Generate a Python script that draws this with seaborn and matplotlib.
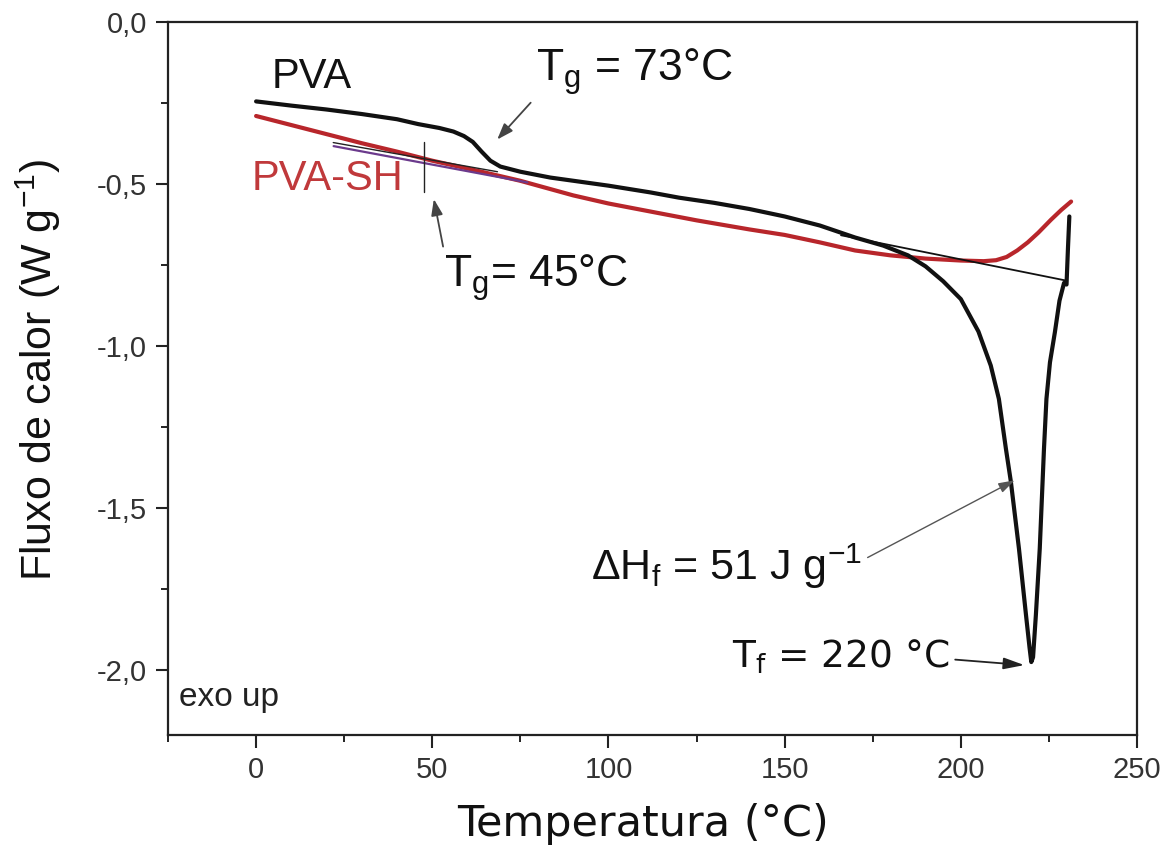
import matplotlib
matplotlib.use("Agg")
import matplotlib.pyplot as plt
from matplotlib.ticker import MultipleLocator, FuncFormatter
import seaborn as sns
import pandas as pd

# DSC curves (temperature in °C, heat flow in W/g)
pva_temp = [0, 10, 20, 30, 40, 46, 52, 56, 59, 61.5, 64, 66.5, 69.3, 75, 83.5,
            100, 112, 120, 130, 140, 150, 160, 170, 178, 185, 190, 195, 200,
            205, 208.5, 210.8, 212.8, 214.2, 216.5, 218.5, 219.5, 220, 220.5,
            221.3, 222.4, 223.6, 224.3, 225.3, 226.7, 228, 229.3, 230.0, 230.4,
            230.8]
pva_flow = [-0.245, -0.258, -0.27, -0.284, -0.30, -0.315, -0.327, -0.338,
            -0.352, -0.37, -0.40, -0.428, -0.446, -0.462, -0.48,
            -0.505, -0.526, -0.542, -0.558, -0.577, -0.60, -0.628, -0.665,
            -0.69, -0.72, -0.754, -0.80, -0.855,
            -0.955, -1.06, -1.163, -1.317, -1.418, -1.625, -1.83, -1.93,
            -1.975, -1.96, -1.83, -1.625, -1.317, -1.163, -1.05, -0.957,
            -0.86, -0.805, -0.81, -0.70, -0.60]

pvash_temp = [0, 10, 20, 30, 40, 50, 60, 75, 90, 100, 112, 125, 140, 150, 160,
              170, 180, 190, 200, 206.5, 210, 213, 216, 219, 222, 225.6, 228.5,
              231.3]
pvash_flow = [-0.29, -0.318, -0.346, -0.374, -0.40, -0.428, -0.452, -0.49,
              -0.535, -0.56, -0.585, -0.612, -0.64, -0.657, -0.68, -0.705,
              -0.72, -0.73, -0.736, -0.738, -0.735, -0.725, -0.705, -0.68,
              -0.65, -0.61, -0.58, -0.554]

# construction lines: glass-transition tangents and melting baseline
tg_pva_line_t = [21.9, 68.5]
tg_pva_line_f = [-0.372, -0.462]
tg_sh_line_t = [22, 77]
tg_sh_line_f = [-0.383, -0.495]
tg_sh_mark_t = [47.7, 47.7]
tg_sh_mark_f = [-0.37, -0.526]
melt_base_t = [166, 229.5]
melt_base_f = [-0.658, -0.797]

x_ticks = [0, 50, 100, 150, 200, 250]
y_ticks = [0.0, -0.5, -1.0, -1.5, -2.0]

sns.set_theme(style="ticks")
plt.rcParams["font.family"] = ["Liberation Sans", "DejaVu Sans"]
plt.rcParams["mathtext.default"] = "regular"

fig = plt.figure(figsize=(11.67, 8.49), dpi=100)
ax = fig.add_axes([168 / 1167, 1 - 735 / 849, (1137 - 168) / 1167, (735 - 22) / 849])

black = "#111111"
red = "#b8262b"

df_pva = pd.DataFrame({"T": pva_temp, "F": pva_flow})
df_sh = pd.DataFrame({"T": pvash_temp, "F": pvash_flow})

sns.lineplot(data=df_sh, x="T", y="F", ax=ax, color=red, lw=3.0,
             sort=False, estimator=None)
sns.lineplot(data=df_pva, x="T", y="F", ax=ax, color=black, lw=3.0,
             sort=False, estimator=None)

ax.plot(tg_sh_line_t, tg_sh_line_f, color="#6b3a8c", lw=1.6)
ax.plot(tg_pva_line_t, tg_pva_line_f, color="#222222", lw=1.0)
ax.plot(tg_sh_mark_t, tg_sh_mark_f, color="#222222", lw=1.0)
ax.plot(melt_base_t, melt_base_f, color="#111111", lw=1.3)

ax.set_xlim(-25, 250)
ax.set_ylim(-2.2, 0.0)
ax.xaxis.set_major_locator(plt.FixedLocator(x_ticks))
ax.xaxis.set_minor_locator(MultipleLocator(25))
ax.yaxis.set_major_locator(plt.FixedLocator(y_ticks))
ax.yaxis.set_minor_locator(MultipleLocator(0.25))
ax.yaxis.set_major_formatter(FuncFormatter(lambda v, p: f"{v:.1f}".replace(".", ",")))

for s in ax.spines.values():
    s.set_linewidth(1.6)
    s.set_color("#222222")

ax.tick_params(which="major", direction="out", length=9, width=1.5,
               labelsize=21, labelcolor="#333333", color="#222222", pad=6)
ax.tick_params(which="minor", direction="out", length=5, width=1.4,
               color="#222222")
ax.tick_params(top=False, right=False, which="both")

ax.set_xlabel("Temperatura (°C)", fontsize=31, family="DejaVu Sans",
              color="#111111", labelpad=14)
ax.xaxis.set_label_coords(0.49, -0.095)
ax.set_ylabel(r"Fluxo de calor (W g$^{\mathregular{-1}}$)", fontsize=31,
              color="#111111", labelpad=14)
ax.yaxis.set_label_coords(-0.108, 0.512)

# labels and annotations
ax.text(4.5, -0.17, "PVA", fontsize=30, color="#111111", va="center", ha="left")
ax.text(-1.2, -0.483, "PVA-SH", fontsize=30, color="#c0393b", va="center", ha="left")
ax.text(-21.8, -2.085, "exo up", fontsize=24, color="#222222", va="center", ha="left")

arrow_kw = dict(arrowstyle="-|>,head_length=0.7,head_width=0.25",
                color="#444444", lw=1.3, mutation_scale=14)

ax.annotate(r"T$_\mathregular{g}$ = 73°C", xy=(67.9, -0.369),
            xytext=(79.3, -0.154), fontsize=32, va="center", ha="left",
            color="#111111", arrowprops=dict(arrow_kw, relpos=(0, 0.0)))
ax.annotate(r"T$_\mathregular{g}$= 45°C", xy=(50.3, -0.538),
            xytext=(53.4, -0.79), fontsize=32, va="center", ha="left",
            color="#111111", arrowprops=dict(arrow_kw, relpos=(0.0, 1.0)))
ax.annotate(r"$\Delta$H$_\mathregular{f}$ = 51 J g$^{\mathregular{-1}}$",
            xy=(216, -1.41), xytext=(95, -1.68), fontsize=31, va="center",
            ha="left", color="#111111",
            arrowprops=dict(arrowstyle="-|>,head_length=0.7,head_width=0.22",
                            color="#555555", lw=1.0, mutation_scale=14,
                            relpos=(1.0, 0.62)))
ax.annotate(r"T$_\mathregular{f}$ = 220 °C", xy=(218.8, -1.985),
            xytext=(135, -1.96), fontsize=27, va="center", ha="left",
            family="DejaVu Sans", color="#111111",
            arrowprops=dict(arrowstyle="-|>,head_length=0.9,head_width=0.25",
                            color="#222222", lw=1.3, mutation_scale=14,
                            relpos=(1.0, 0.45)))

fig.savefig("out.png", dpi=100, facecolor="white")
